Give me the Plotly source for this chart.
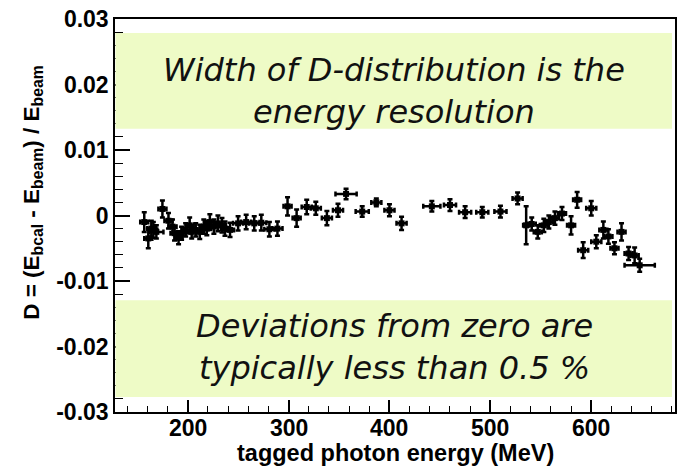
import plotly.graph_objects as go

# ---- data ----
energy = [157, 161, 164, 166, 169, 175, 181, 185, 187, 191, 194, 198, 202, 204, 208,
          212, 216, 219, 222, 226, 230, 234, 237, 242, 250, 258, 266, 273, 281, 289,
          299, 308, 318, 327, 338, 349, 357, 373, 387, 400, 412,
          442, 460, 475, 492, 510, 527, 535.5, 541, 547, 553, 558, 564, 571, 580,
          586, 592, 600, 605, 612, 617, 623, 630, 637, 643, 648]
deviation = [-0.0010, -0.0035, -0.0020, -0.0022, -0.0025, 0.0010, -0.0008, -0.0017, -0.0027, -0.0034,
             -0.0027, -0.0022, -0.0015, -0.0025, -0.0022, -0.0025, -0.0017, -0.0020, -0.0010, -0.0017,
             -0.0012, -0.0015, -0.0020, -0.0022, -0.0012, -0.0010, -0.0012, -0.0011, -0.0021, -0.0020,
             0.0014, -0.0004, 0.0013, 0.0011, -0.0004, 0.0008, 0.0033, 0.0006, 0.0020, 0.0008, -0.0012,
             0.0014, 0.0016, 0.0005, 0.0005, 0.0006, 0.0026, -0.0015, -0.0013, -0.0025, -0.0015,
             -0.0010, -0.0004, 0.0003, -0.0015, 0.0024, -0.0053, 0.0011, -0.0040, -0.0022, -0.0032,
             -0.0050, -0.0025, -0.0058, -0.0061, -0.0076]
energy_err = [4, 4, 4, 4, 7, 4, 4, 4, 4, 4, 4, 4, 4, 4, 4,
              4, 4, 4, 4, 4, 4, 4, 4, 4, 5, 5, 5, 5, 5, 5,
              4, 4, 5, 5, 5, 5, 10.5, 6.5, 5, 5, 5,
              8.5, 6, 6, 6, 6, 5, 3, 4, 4, 4, 4, 4, 4, 4,
              4, 5, 5, 5, 4, 4, 4, 4, 4, 4, 15]
deviation_err = [0.0015, 0.0015, 0.0012, 0.0012, 0.0010, 0.0013, 0.0012, 0.0011, 0.0011, 0.0010,
                 0.0010, 0.0010, 0.0012, 0.0010, 0.0010, 0.0011, 0.0011, 0.0010, 0.0012, 0.0011,
                 0.0012, 0.0011, 0.0011, 0.0011, 0.0011, 0.0011, 0.0011, 0.0012, 0.0011, 0.0011,
                 0.0014, 0.0013, 0.0011, 0.0010, 0.0011, 0.0010, 0.0008, 0.0008, 0.0006, 0.0009, 0.0010,
                 0.0008, 0.0009, 0.0009, 0.0008, 0.0009, 0.0009, 0.0029, 0.0010, 0.0010, 0.0010,
                 0.0010, 0.0010, 0.0010, 0.0014, 0.0012, 0.0012, 0.0011, 0.0010, 0.0013, 0.0011,
                 0.0009, 0.0013, 0.0010, 0.0012, 0.0010]

y_tickvals = [-0.03, -0.02, -0.01, 0, 0.01, 0.02, 0.03]
y_ticktext = ["-0.03", "-0.02", "-0.01", "0", "0.01", "0.02", "0.03"]
x_tickvals = [200, 300, 400, 500, 600]
x_ticktext = ["200", "300", "400", "500", "600"]

x_title = "tagged photon energy (MeV)"
y_title = "D = (E<sub>bcal</sub> - E<sub>beam</sub>) / E<sub>beam</sub>"
note_top = "Width of D-distribution is the<br>energy resolution"
note_bottom = "Deviations from zero are<br>typically less than 0.5 %"

# ---- figure ----
W, H = 683, 469
ML, MR, MT, MB = 115, 6, 18, 57
PW, PH = W - ML - MR, H - MT - MB


def px_x(p):
    return (p - ML) / PW


def px_y(p):
    return 1 - (p - MT) / PH


AX_FONT = "Liberation Sans, Arial, Helvetica, sans-serif"
NOTE_FONT = "DejaVu Sans, Verdana, sans-serif"
BOX_COLOR = "#eefbc6"

fig = go.Figure()
fig.add_trace(go.Scatter(
    x=energy, y=deviation, mode="markers",
    marker=dict(symbol="square", size=6, color="black"),
    error_x=dict(type="data", array=energy_err, color="black", thickness=2.5, width=2.5),
    error_y=dict(type="data", array=deviation_err, color="black", thickness=2.5, width=2.5),
    showlegend=False, hoverinfo="skip",
))

tickfont = dict(family=AX_FONT, size=23, color="black", weight="bold")

fig.update_layout(
    width=W, height=H,
    margin=dict(l=ML, r=MR, t=MT, b=MB, pad=0),
    paper_bgcolor="white", plot_bgcolor="white",
    xaxis=dict(
        range=[128, 683], showgrid=False, zeroline=False,
        showline=True, linecolor="black", linewidth=1.5, mirror=True,
        ticks="inside", ticklen=12, tickwidth=1.5, tickcolor="black",
        tickmode="array", tickvals=x_tickvals, ticktext=x_ticktext,
        showticklabels=False,
        minor=dict(ticks="inside", ticklen=6, tickwidth=1.2, tickcolor="black",
                   tickmode="linear", tick0=0, dtick=20, showgrid=False),
    ),
    yaxis=dict(
        range=[-0.03, 0.03], showgrid=False, zeroline=False,
        showline=True, linecolor="black", linewidth=1.5, mirror=True,
        ticks="inside", ticklen=15, tickwidth=1.5, tickcolor="black",
        tickmode="array", tickvals=y_tickvals, ticktext=y_ticktext,
        tickfont=tickfont,
        minor=dict(ticks="inside", ticklen=8, tickwidth=1.2, tickcolor="black",
                   tickmode="linear", tick0=0, dtick=0.002, showgrid=False),
    ),
)

# x tick labels placed on the x scale, just below the frame
for v, t in zip(x_tickvals, x_ticktext):
    fig.add_annotation(text=t, xref="x", yref="paper", x=v, y=px_y(428),
                       xanchor="center", yanchor="middle", showarrow=False,
                       font=tickfont)

# highlight boxes
for y0p, y1p in [(32, 128), (300, 397)]:
    fig.add_shape(type="rect", xref="paper", yref="paper",
                  x0=px_x(115.5), x1=px_x(674), y0=px_y(y1p), y1=px_y(y0p),
                  fillcolor=BOX_COLOR, line=dict(width=0), layer="above")

note_font = dict(family=NOTE_FONT, size=32, color="#111111", style="italic")
fig.add_annotation(text=note_top, xref="paper", yref="paper",
                   x=px_x(395), y=px_y(90), xanchor="center", yanchor="middle",
                   showarrow=False, font=note_font, align="center")
fig.add_annotation(text=note_bottom, xref="paper", yref="paper",
                   x=px_x(395), y=px_y(347), xanchor="center", yanchor="middle",
                   showarrow=False, font=note_font, align="center")

# axis titles
fig.add_annotation(text=x_title, xref="paper", yref="paper",
                   x=px_x(396), y=px_y(453), xanchor="center", yanchor="middle",
                   showarrow=False,
                   font=dict(family=AX_FONT, size=23.5, color="black", weight="bold"))
fig.add_annotation(text=y_title, xref="paper", yref="paper",
                   x=px_x(32), y=px_y(192), xanchor="center", yanchor="middle",
                   textangle=-90, showarrow=False,
                   font=dict(family=AX_FONT, size=22.5, color="black", weight="bold"))

fig.write_html("out.html")
